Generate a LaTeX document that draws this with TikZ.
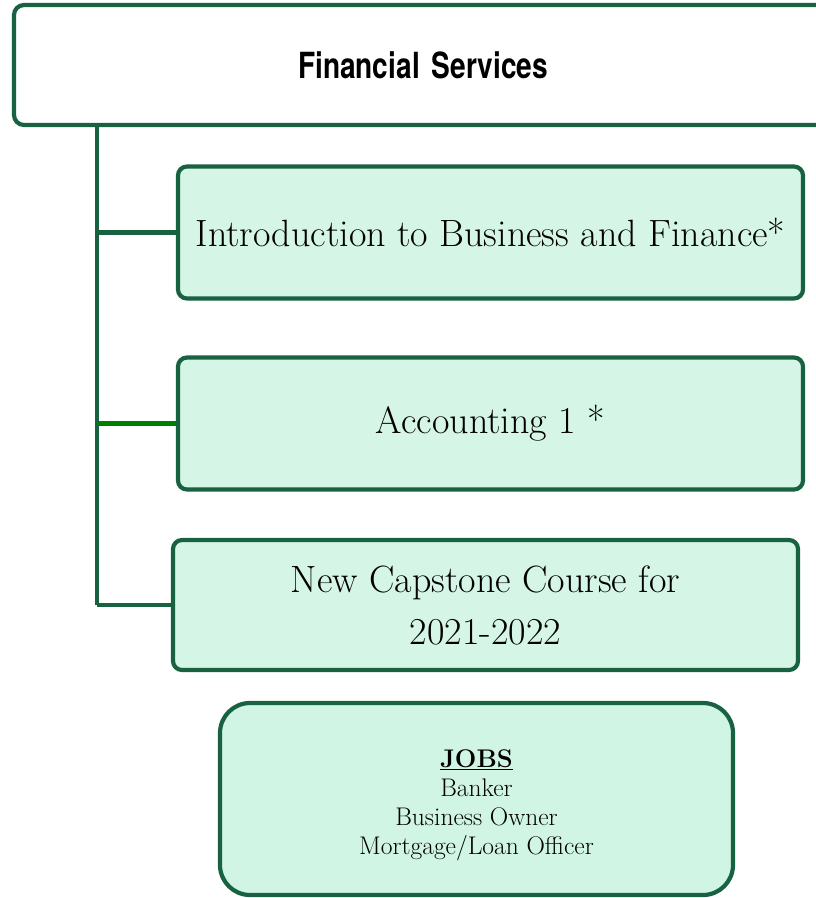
\documentclass[tikz,border=0pt]{standalone}
\usepackage{fontspec}
\usepackage{tikz}
\newfontfamily\headfont[FakeStretch=0.78]{TeX Gyre Heros}
\definecolor{pathgreen}{RGB}{24,98,66}
\definecolor{linkgreen}{RGB}{0,128,0}
\definecolor{coursefill}{RGB}{213,245,230}
\definecolor{jobsfill}{RGB}{208,245,228}

\begin{document}
\begin{tikzpicture}[x=1pt, y=-1pt]

% Fix the page to the size of the reference
\useasboundingbox (0,0) rectangle (815,898);

% Define styles for the boxes and connectors
\tikzstyle{headbox} = [draw=pathgreen, line width=4.2pt, rounded corners=10pt, fill=white,
    minimum width=815pt, minimum height=120pt, inner sep=0pt, text depth=0pt,
    font=\headfont\bfseries\fontsize{36}{40}\selectfont]
\tikzstyle{course} = [draw=pathgreen, line width=4.2pt, rounded corners=9pt, fill=coursefill,
    minimum width=625pt, minimum height=132pt, inner sep=0pt, align=center,
    font=\fontsize{38}{52}\selectfont]
\tikzstyle{jobsbox} = [draw=pathgreen, line width=4.2pt, rounded corners=30pt, fill=jobsfill,
    minimum width=513pt, minimum height=192pt, inner sep=0pt]
\tikzstyle{jobslist} = [align=center, inner sep=0pt, font=\fontsize{25.5}{29}\selectfont]
\tikzstyle{link} = [draw=pathgreen, line width=4.2pt]

% Boxes
\node[headbox, text width=815pt, align=center] (head) at (421.5,65) {\hspace*{3pt}Financial Services};
\node[course] (intro) at (490.5,232.5) {Introduction to Business and Finance*};
\node[course] (acct) at (490.5,423.5) {Accounting 1 *};
\node[course, minimum height=130pt] (capstone) at (485.5,605) {New Capstone Course for\\2021-2022};
\node[jobsbox] (jobs) at (476.5,799) {};
\node[jobslist] (jobstext) at ([yshift=-6pt]jobs.center) {\textbf{\underline{JOBS}}\\Banker\\Business Owner\\Mortgage/Loan Officer};

% Connectors
\coordinate (spinetop) at (97,125);
\coordinate (spinebot) at (97,605);
\draw[link] (spinetop) -- (spinebot |- capstone.west);
\draw[link] (spinetop |- intro.west) -- (intro.west);
\draw[link, draw=linkgreen] (spinetop |- acct.west) -- (acct.west);
\draw[link] (spinebot) -- (capstone.west);

\end{tikzpicture}
\end{document}
